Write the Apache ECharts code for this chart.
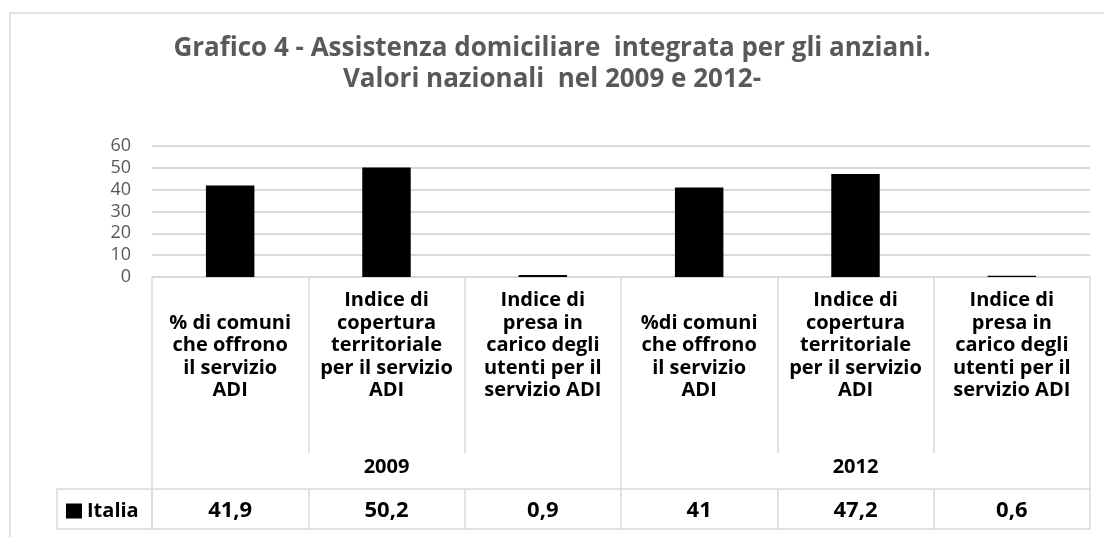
<!DOCTYPE html>
<html>
<head>
<meta charset="utf-8">
<script src="https://cdn.jsdelivr.net/npm/echarts@6/dist/echarts.min.js"></script>
<style>
  html, body { margin: 0; padding: 0; background: #fff; }
  #chart { width: 1104px; height: 537px; }
</style>
</head>
<body>
<div id="chart"></div>
<script>
var categories = [
  '% di comuni\nche offrono\nil servizio\nADI',
  'Indice di\ncopertura\nterritoriale\nper il servizio\nADI',
  'Indice di\npresa in\ncarico degli\nutenti per il\nservizio ADI',
  '%di comuni\nche offrono\nil servizio\nADI',
  'Indice di\ncopertura\nterritoriale\nper il servizio\nADI',
  'Indice di\npresa in\ncarico degli\nutenti per il\nservizio ADI'
]
var years = ['2009', '2012']
var italia = [41.9, 50.2, 0.9, 41, 47.2, 0.6]
var seriesName = 'Italia'
var yMin = 0, yMax = 60, yStep = 10

var font = '"Open Sans", "DejaVu Sans", Arial, sans-serif'
var gridColor = '#d9d9d9'

var chart = echarts.init(document.getElementById('chart'))
chart.setOption({
  backgroundColor: '#fff',
  animation: false,
  title: {
    text: 'Grafico 4 - Assistenza domiciliare  integrata per gli anziani.\nValori nazionali  nel 2009 e 2012-',
    left: 'center',
    top: 28,
    textStyle: {
      fontFamily: font,
      fontSize: 26,
      fontWeight: 'bold',
      color: '#595959',
      lineHeight: 31
    }
  },
  legend: {
    data: [seriesName],
    left: 66,
    top: 501,
    padding: 0,
    icon: 'rect',
    itemWidth: 16,
    itemHeight: 15,
    itemGap: 8,
    textStyle: { fontFamily: font, fontSize: 20, fontWeight: 'bold', color: '#000' }
  },
  graphic: [
    { type: 'rect', shape: { x: 10, y: 13, width: 1200, height: 600 },
      style: { fill: 'none', stroke: gridColor, lineWidth: 1.5 }, z: -1 },
    { type: 'rect', shape: { x: 57, y: 489, width: 95, height: 40 },
      style: { fill: 'none', stroke: gridColor, lineWidth: 1.5 }, z: -1 }
  ],
  grid: { left: 152, right: 14, top: 146, bottom: 260 },
  xAxis: [
    {
      type: 'category',
      data: categories,
      axisLine: { lineStyle: { color: gridColor, width: 1.5 } },
      axisTick: { show: true, interval: 0, length: 176, lineStyle: { color: gridColor, width: 1.5 } },
      axisLabel: {
        interval: 0,
        margin: 125,
        verticalAlign: 'bottom',
        fontFamily: font,
        fontSize: 20,
        fontWeight: 'bold',
        lineHeight: 22.5,
        color: '#000'
      }
    },
    {
      type: 'category',
      data: years,
      position: 'bottom',
      axisLine: { show: false },
      axisTick: { show: true, interval: 0, length: 252, lineStyle: { color: gridColor, width: 1.5 } },
      axisLabel: {
        interval: 0,
        margin: 180,
        fontFamily: font,
        fontSize: 20,
        fontWeight: 'bold',
        color: '#000'
      }
    },
    {
      type: 'category',
      data: italia.map(function (v) { return String(v).replace('.', ',') }),
      position: 'bottom',
      offset: 212,
      axisLine: { lineStyle: { color: gridColor, width: 1.5 } },
      axisTick: { show: true, interval: 0, length: 40, lineStyle: { color: gridColor, width: 1.5 } },
      axisLabel: {
        interval: 0,
        margin: 11,
        fontFamily: font,
        fontSize: 22,
        fontWeight: 'bold',
        color: '#000'
      }
    },
    {
      type: 'category',
      data: italia.map(function () { return '' }),
      position: 'bottom',
      offset: 252,
      axisLine: { lineStyle: { color: gridColor, width: 1.5 } },
      axisTick: { show: false },
      axisLabel: { show: false }
    }
  ],
  yAxis: {
    type: 'value',
    min: yMin,
    max: yMax,
    interval: yStep,
    axisLine: { show: false },
    axisTick: { show: false },
    axisLabel: { margin: 21, fontFamily: font, fontSize: 18, color: '#595959' },
    splitLine: { lineStyle: { color: gridColor, width: 2 } }
  },
  series: [{
    name: seriesName,
    type: 'bar',
    xAxisIndex: 0,
    data: italia,
    barWidth: '31%',
    itemStyle: { color: '#000' }
  }]
})
</script>
</body>
</html>
